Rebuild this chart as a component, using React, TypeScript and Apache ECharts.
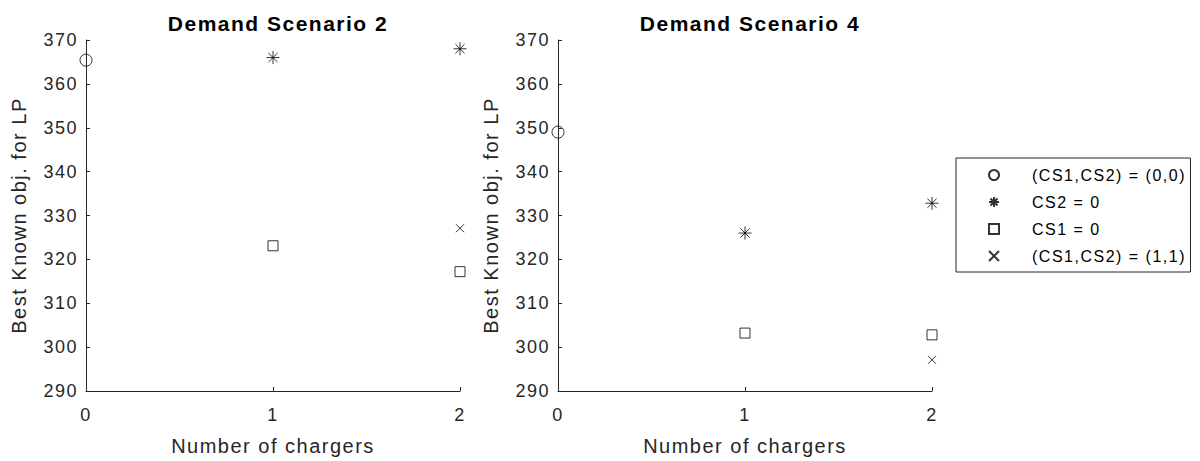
import React, { useEffect, useRef } from "react";
import * as echarts from "echarts";

// Number of chargers (x positions)
const chargers = [0, 1, 2];
const yTicks = [290, 300, 310, 320, 330, 340, 350, 360, 370];
const seriesNames = ["(CS1,CS2) = (0,0)", "CS2 = 0", "CS1 = 0", "(CS1,CS2) = (1,1)"];
const titles = ["Demand Scenario 2", "Demand Scenario 4"];

// Demand Scenario 2 (values per charger count, null = no point)
const ds2Cs00 = [365.4, null, null];
const ds2Cs2 = [null, 366.0, 368.0];
const ds2Cs1 = [null, 323.1, 317.2];
const ds2Cs11 = [null, null, 327.1];

// Demand Scenario 4
const ds4Cs00 = [349.0, null, null];
const ds4Cs2 = [null, 326.0, 332.8];
const ds4Cs1 = [null, 303.2, 302.8];
const ds4Cs11 = [null, null, 297.1];

const starPath =
  "path://M0,-10L0,10M-10,0L10,0M-7.07,-7.07L7.07,7.07M-7.07,7.07L7.07,-7.07";
const crossPath = "path://M-10,-10L10,10M-10,10L10,-10";
const squarePath = "path://M-10,-10L10,-10L10,10L-10,10Z";

const symbols = ["circle", starPath, squarePath, crossPath];
const sizes = [12, 13, 10, 8];

const ink = "#262626";

function toPoints(vals: (number | null)[]) {
  const out: [number, number][] = [];
  vals.forEach((v, i) => {
    if (v !== null) out.push([chargers[i], v]);
  });
  return out;
}

export default function App() {
  const ref = useRef<HTMLDivElement>(null);

  useEffect(() => {
    if (!ref.current) return;
    const chart = echarts.init(ref.current, undefined, { renderer: "svg" });
    const font = "Arial, 'Liberation Sans', Helvetica, sans-serif";
    const groups = [
      [ds2Cs00, ds2Cs2, ds2Cs1, ds2Cs11],
      [ds4Cs00, ds4Cs2, ds4Cs1, ds4Cs11],
    ];
    const grids = [
      { left: 86, right: 740, top: 40, bottom: 70 },
      { left: 558, right: 268, top: 40, bottom: 70 },
    ];
    const axisCommon = {
      axisLine: { show: true, lineStyle: { color: ink, width: 1 } },
      axisTick: { show: true, inside: true, length: 4, lineStyle: { color: ink } },
      splitLine: { show: false },
    };
    const xAxes = grids.map((_, i) => ({
      type: "value",
      gridIndex: i,
      min: 0,
      max: 2,
      interval: 1,
      name: "Number of chargers",
      nameLocation: "middle",
      nameGap: 45,
      nameTextStyle: { color: ink, fontSize: 20, fontFamily: font },
      axisLabel: { color: ink, fontSize: 18, fontFamily: font, margin: 15 },
      ...axisCommon,
    }));
    const yAxes = grids.map((_, i) => ({
      type: "value",
      gridIndex: i,
      min: yTicks[0],
      max: yTicks[yTicks.length - 1],
      interval: 10,
      name: "Best Known obj. for LP",
      nameLocation: "middle",
      nameGap: 57,
      nameTextStyle: { color: ink, fontSize: 20, fontFamily: font },
      axisLabel: { color: ink, fontSize: 18, fontFamily: font, margin: 8 },
      ...axisCommon,
    }));
    const series: any[] = [];
    groups.forEach((g, gi) => {
      g.forEach((vals, si) => {
        series.push({
          type: "scatter",
          name: seriesNames[si],
          xAxisIndex: gi,
          yAxisIndex: gi,
          symbol: symbols[si],
          symbolSize: sizes[si],
          clip: false,
          itemStyle: { color: "transparent", borderColor: "#000", borderWidth: 1 },
          data: toPoints(vals),
        });
      });
    });
    chart.setOption({
      animation: false,
      backgroundColor: "#fff",
      title: titles.map((t, i) => ({
        text: t,
        left: i === 0 ? 273 : 745,
        top: 8,
        textAlign: "center",
        textStyle: { color: "#000", fontSize: 21, fontWeight: "bold", fontFamily: font },
      })),
      grid: grids,
      xAxis: xAxes,
      yAxis: yAxes,
      legend: {
        orient: "vertical",
        left: 956,
        top: 158,
        data: seriesNames,
        itemWidth: 14,
        itemHeight: 10,
        itemGap: 11,
        padding: [9, 30, 8, 32],
        borderColor: ink,
        borderWidth: 1,
        backgroundColor: "#fff",
        selectedMode: false,
        textStyle: {
          color: "#000",
          fontSize: 16,
          lineHeight: 15,
          fontFamily: font,
          padding: [0, 0, 0, 26],
        },
      },
      series,
    });
    return () => chart.dispose();
  }, []);

  return (
    <>
      <style>{"#root svg text, #root svg tspan { letter-spacing: 1.5px !important; }"}</style>
      <div
        ref={ref}
        style={{
          position: "absolute",
          left: 0,
          top: 0,
          width: 1200,
          height: 461,
          letterSpacing: "1.5px",
        }}
      />
    </>
  );
}
